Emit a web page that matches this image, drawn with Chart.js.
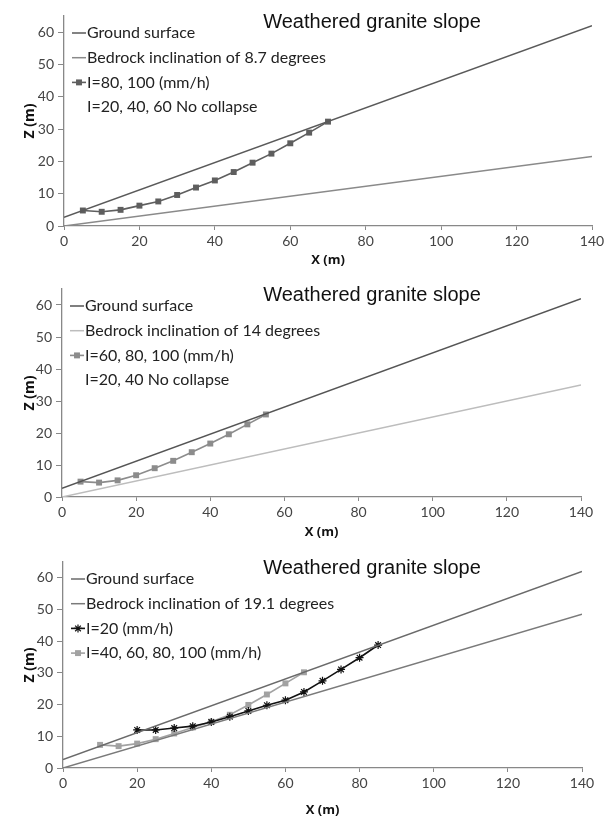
<!DOCTYPE html>
<html>
<head>
<meta charset="utf-8">
<script src="https://cdn.jsdelivr.net/npm/chart.js@4.4.0/dist/chart.umd.min.js"></script>
<style>
  body { margin: 0; background: #fff; width: 608px; height: 818px; overflow: hidden; }
  .panel { position: absolute; left: 0; width: 608px; }
</style>
</head>
<body>
<div class="panel" style="top:0;height:268px"><canvas id="chart1"></canvas></div>
<div class="panel" style="top:268px;height:272px"><canvas id="chart2"></canvas></div>
<div class="panel" style="top:540px;height:278px"><canvas id="chart3"></canvas></div>
<script>
// Axis ticks shared by all three panels
const xTicks = [0, 20, 40, 60, 80, 100, 120, 140];
const yTicks = [0, 10, 20, 30, 40, 50, 60];

// Straight lines (end points)
const lineX = [0, 140];
const groundZ = [2.7, 62];
const bedrock1Z = [0, 21.5];
const bedrock2Z = [0, 35];
const bedrock3Z = [0, 48.5];

// Panel 1: 8.7 degrees
const slip1X = [5, 10, 15, 20, 25, 30, 35, 40, 45, 50, 55, 60, 65, 70];
const slip1Z = [4.8, 4.4, 5.0, 6.3, 7.6, 9.6, 11.9, 14.1, 16.7, 19.6, 22.4, 25.6, 28.9, 32.3];

// Panel 2: 14 degrees
const slip2X = [5, 10, 15, 20, 25, 30, 35, 40, 45, 50, 55];
const slip2Z = [4.8, 4.5, 5.2, 6.8, 9.0, 11.3, 14.0, 16.7, 19.6, 22.7, 25.8];

// Panel 3: 19.1 degrees
const slip3aX = [20, 25, 30, 35, 40, 45, 50, 55, 60, 65, 70, 75, 80, 85];
const slip3aZ = [12.0, 12.0, 12.6, 13.2, 14.5, 16.2, 18.0, 19.8, 21.4, 24.0, 27.5, 31.1, 34.8, 38.8];
const slip3bX = [10, 15, 20, 25, 30, 35, 40, 45, 50, 55, 60, 65];
const slip3bZ = [7.3, 6.9, 7.7, 9.1, 10.9, 12.8, 14.6, 16.8, 19.9, 23.2, 26.7, 30.2];

const titleText = 'Weathered granite slope';

function pts(xs, zs) {
  return xs.map((x, i) => ({ x: x, y: zs[i] }));
}

function lineSet(label, xs, zs, color, width) {
  return { label: label, data: pts(xs, zs), showLine: true, borderColor: color,
    borderWidth: width, pointRadius: 0, pointHoverRadius: 0 };
}

function markSet(label, xs, zs, color, style, radius) {
  return { label: label, data: pts(xs, zs), showLine: true, borderColor: color,
    backgroundColor: color, borderWidth: 1.6, pointStyle: style, pointRadius: radius,
    pointBorderWidth: style === 'star' ? 1.2 : 0, pointBorderColor: color };
}

// draws title and the in-plot legend
const overlayPlugin = {
  id: 'overlay',
  afterDatasetsDraw(chart, args, opts) {
    const ctx = chart.ctx;
    const area = chart.chartArea;
    ctx.save();
    ctx.fillStyle = '#111';
    ctx.font = '20px "Liberation Sans", Arial, sans-serif';
    ctx.textAlign = 'center';
    ctx.textBaseline = 'middle';
    ctx.fillText(titleText, opts.titleX, area.top + opts.titleDy);

    ctx.font = '16px Lato, "Noto Sans", sans-serif';
    ctx.textAlign = 'left';
    opts.items.forEach((item, i) => {
      const y = area.top + 17 + i * 24.7;
      const x0 = area.left + 8;
      const x1 = x0 + 14;
      const ds = item.ds != null ? chart.data.datasets[item.ds] : null;
      if (ds) {
        ctx.strokeStyle = ds.borderColor;
        ctx.lineWidth = ds.borderWidth;
        ctx.beginPath();
        ctx.moveTo(x0, y);
        ctx.lineTo(x1, y);
        ctx.stroke();
        if (ds.pointRadius > 0) {
          ctx.fillStyle = ds.backgroundColor;
          ctx.lineWidth = ds.pointBorderWidth;
          Chart.helpers.drawPoint(ctx, {
            pointStyle: ds.pointStyle, radius: ds.pointRadius, rotation: 0,
            borderWidth: ds.pointBorderWidth
          }, (x0 + x1) / 2, y);
        }
      }
      ctx.fillStyle = '#222';
      ctx.fillText(item.text, x1 + 1, y);
    });
    ctx.restore();
  }
};

function makeChart(id, datasets, items, lay) {
  return new Chart(document.getElementById(id), {
    type: 'scatter',
    data: { datasets: datasets },
    plugins: [overlayPlugin],
    options: {
      responsive: true,
      maintainAspectRatio: false,
      animation: false,
      layout: { padding: { top: lay.top, right: lay.right, left: 0, bottom: 0 } },
      plugins: {
        legend: { display: false },
        tooltip: { enabled: false },
        overlay: { items: items, titleX: 372, titleDy: 6 }
      },
      scales: {
        x: {
          type: 'linear', min: 0, max: 140,
          afterBuildTicks: s => { s.ticks = xTicks.map(v => ({ value: v })); },
          afterFit: s => { s.height = lay.xh; },
          grid: { drawOnChartArea: false, drawTicks: true, tickLength: 4, color: '#888' },
          border: { color: '#888', width: 1.3 },
          ticks: { color: '#444', font: { family: 'Lato, "Noto Sans", sans-serif', size: 14 }, padding: 3, maxRotation: 0 },
          title: { display: true, text: 'X (m)', color: '#111', padding: { top: 1, bottom: 0 },
            font: { family: '"Open Sans", sans-serif', size: 13, weight: 'bold' } }
        },
        y: {
          type: 'linear', min: 0, max: 65,
          afterBuildTicks: s => { s.ticks = yTicks.map(v => ({ value: v })); },
          afterFit: s => { s.width = lay.yw; },
          grid: { drawOnChartArea: false, drawTicks: true, tickLength: 6, color: '#888' },
          border: { color: '#888', width: 1.3 },
          ticks: { color: '#444', font: { family: 'Lato, "Noto Sans", sans-serif', size: 14 }, padding: 4 },
          title: { display: true, text: 'Z (m)', color: '#111', padding: { top: 22, bottom: 0 },
            font: { family: '"Open Sans", sans-serif', size: 14, weight: 'bold' } }
        }
      }
    }
  });
}

makeChart('chart1', [
  lineSet('Ground surface', lineX, groundZ, '#5a5a5a', 1.5),
  lineSet('Bedrock inclination of 8.7 degrees', lineX, bedrock1Z, '#8a8a8a', 1.5),
  markSet('I=80, 100 (mm/h)', slip1X, slip1Z, '#5e5e5e', 'rect', 4.2)
], [
  { ds: 0, text: 'Ground surface' },
  { ds: 1, text: 'Bedrock inclination of 8.7 degrees' },
  { ds: 2, text: 'I=80, 100 (mm/h)' },
  { ds: null, text: 'I=20, 40, 60 No collapse' }
], { top: 16, right: 16, xh: 42, yw: 64 });

makeChart('chart2', [
  lineSet('Ground surface', lineX, groundZ, '#555555', 1.5),
  lineSet('Bedrock inclination of 14 degrees', lineX, bedrock2Z, '#bdbdbd', 1.5),
  markSet('I=60, 80, 100 (mm/h)', slip2X, slip2Z, '#8c8c8c', 'rect', 4.2)
], [
  { ds: 0, text: 'Ground surface' },
  { ds: 1, text: 'Bedrock inclination of 14 degrees' },
  { ds: 2, text: 'I=60, 80, 100 (mm/h)' },
  { ds: null, text: 'I=20, 40 No collapse' }
], { top: 21, right: 27, xh: 43, yw: 62 });

makeChart('chart3', [
  lineSet('Ground surface', lineX, groundZ, '#6a6a6a', 1.5),
  lineSet('Bedrock inclination of 19.1 degrees', lineX, bedrock3Z, '#7a7a7a', 1.5),
  markSet('I=20 (mm/h)', slip3aX, slip3aZ, '#111111', 'star', 4),
  markSet('I=40, 60, 80, 100 (mm/h)', slip3bX, slip3bZ, '#a2a2a2', 'rect', 4.2)
], [
  { ds: 0, text: 'Ground surface' },
  { ds: 1, text: 'Bedrock inclination of 19.1 degrees' },
  { ds: 2, text: 'I=20 (mm/h)' },
  { ds: 3, text: 'I=40, 60, 80, 100 (mm/h)' }
], { top: 22, right: 26, xh: 50, yw: 63 });
</script>
</body>
</html>
